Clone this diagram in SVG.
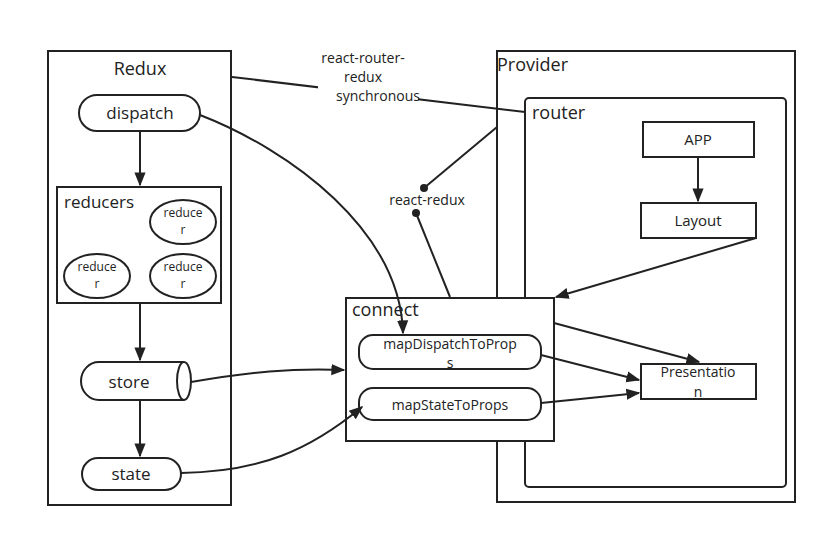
<svg xmlns="http://www.w3.org/2000/svg" width="827" height="538" viewBox="0 0 827 538">
<defs>
<style>
.b{fill:#fff;stroke:#222;stroke-width:2}
.t{font-family:"Open Sans","Noto Sans CJK SC",sans-serif;fill:#222}
.l{fill:none;stroke:#222;stroke-width:2}
</style>
<marker id="a2" viewBox="0 0 10 10" refX="9" refY="5" markerWidth="14" markerHeight="14" orient="auto" markerUnits="userSpaceOnUse"><path d="M0,1L10,5L0,9z" fill="#222"/></marker>
</defs>
<rect width="827" height="538" fill="#fff"/>
<g id="redux"><rect class="b" x="48" y="51" width="183" height="454"/><text class="t" x="140" y="75" font-size="18" text-anchor="middle">Redux</text></g>
<g id="provider"><rect class="b" x="497" y="51" width="298" height="451"/><text class="t" x="497" y="71" font-size="18">Provider</text></g>
<g id="router"><rect class="b" x="525" y="98" width="261" height="389" rx="4"/><text class="t" x="532" y="119" font-size="18">router</text></g>
<g id="app"><rect class="b" x="643" y="122" width="111" height="35"/><text class="t" x="698" y="145" font-size="15" text-anchor="middle">APP</text></g>
<g id="layout"><rect class="b" x="641" y="203" width="115" height="35"/><text class="t" x="698" y="226" font-size="15" text-anchor="middle">Layout</text></g>
<g id="dispatch"><rect class="b" x="79" y="95" width="121" height="36" rx="18"/><text class="t" x="140" y="119" font-size="17" text-anchor="middle">dispatch</text></g>
<g id="reducers"><rect class="b" x="57" y="187" width="164" height="116"/><text class="t" x="64" y="208" font-size="17">reducers</text>
<ellipse class="b" cx="183" cy="222" rx="33" ry="22"/><text class="t" x="183" y="217" font-size="12" text-anchor="middle">reduce</text><text class="t" x="183" y="234" font-size="12" text-anchor="middle">r</text>
<ellipse class="b" cx="97" cy="276" rx="33" ry="22"/><text class="t" x="97" y="271" font-size="12" text-anchor="middle">reduce</text><text class="t" x="97" y="288" font-size="12" text-anchor="middle">r</text>
<ellipse class="b" cx="183" cy="276" rx="33" ry="22"/><text class="t" x="183" y="271" font-size="12" text-anchor="middle">reduce</text><text class="t" x="183" y="288" font-size="12" text-anchor="middle">r</text></g>
<g id="store"><path class="b" d="M99,362H184A7,19 0 0 1 184,400H99A18,19 0 0 1 99,362Z"/><path class="l" d="M184,362A7,19 0 0 0 184,400"/><text class="t" x="129" y="388" font-size="17" text-anchor="middle">store</text></g>
<g id="state"><rect class="b" x="82" y="458" width="99" height="32" rx="16"/><text class="t" x="131" y="480" font-size="17" text-anchor="middle">state</text></g>
<g id="connectors">
<path class="l" d="M140,131V185" marker-end="url(#a2)"/>
<path class="l" d="M140,303V360" marker-end="url(#a2)"/>
<path class="l" d="M140,400V456" marker-end="url(#a2)"/>
<path class="l" d="M698,157V201" marker-end="url(#a2)"/>
<path class="l" d="M232,77L525,112"/>
<path class="l" d="M497,127L424,188"/><circle cx="424" cy="188" r="4" fill="#222"/>
<circle cx="416" cy="213" r="4" fill="#222"/><path class="l" d="M416,213L450,297"/>
<path class="l" d="M756,238L556,297" marker-end="url(#a2)"/>
</g>
<g id="connect"><rect class="b" x="346" y="298" width="208" height="143"/><text class="t" x="352" y="316" font-size="18">connect</text></g>
<g id="mapD"><rect class="b" x="359" y="335" width="182" height="34" rx="14"/><text class="t" x="450" y="349" font-size="14" text-anchor="middle">mapDispatchToProp</text><text class="t" x="450" y="368" font-size="14" text-anchor="middle">s</text></g>
<g id="mapS"><rect class="b" x="359" y="388" width="182" height="32" rx="14"/><text class="t" x="450" y="410" font-size="14" text-anchor="middle">mapStateToProps</text></g>
<g id="presentation"><rect class="b" x="641" y="364" width="115" height="35"/><text class="t" x="698" y="377" font-size="14" text-anchor="middle">Presentatio</text><text class="t" x="698" y="397" font-size="14" text-anchor="middle">n</text></g>
<g id="connectors2">
<path class="l" d="M200,115C290,150 400,230 403,333" marker-end="url(#a2)"/>
<path class="l" d="M191,382C250,372 290,368 344,370" marker-end="url(#a2)"/>
<path class="l" d="M181,473C260,472 310,450 362,407" marker-end="url(#a2)"/>
<path class="l" d="M554,323L699,362" marker-end="url(#a2)"/>
<path class="l" d="M541,355L639,380" marker-end="url(#a2)"/>
<path class="l" d="M541,403L639,393" marker-end="url(#a2)"/>
</g>
<g id="labels">
<rect x="318" y="48" width="100" height="58" fill="#fff"/>
<text class="t" x="363" y="63" font-size="14" text-anchor="middle">react-router-</text>
<text class="t" x="363" y="82" font-size="14" text-anchor="middle">redux</text>
<text class="t" x="378" y="101" font-size="14" text-anchor="middle">synchronous</text>
<text class="t" x="427" y="205" font-size="14" text-anchor="middle">react-redux</text>
</g>
</svg>
